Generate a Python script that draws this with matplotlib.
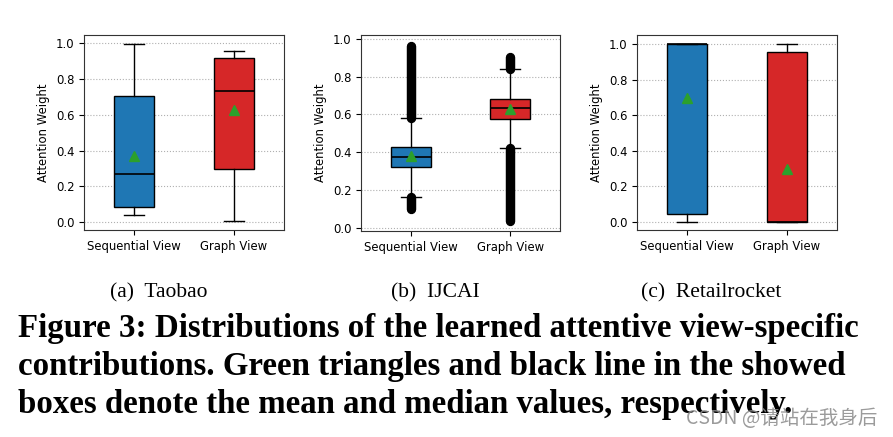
import matplotlib
matplotlib.use("Agg")
import matplotlib.pyplot as plt

# box statistics (q1, median, q3, whisker low/high, mean)
views = ["Sequential View", "Graph View"]
colors = ["#1f77b4", "#d62728"]

taobao_q1 = [0.084, 0.296]
taobao_med = [0.270, 0.730]
taobao_q3 = [0.703, 0.914]
taobao_lo = [0.043, 0.006]
taobao_hi = [0.994, 0.955]
taobao_mean = [0.372, 0.628]

ijcai_q1 = [0.322, 0.576]
ijcai_med = [0.373, 0.633]
ijcai_q3 = [0.426, 0.680]
ijcai_lo = [0.164, 0.420]
ijcai_hi = [0.583, 0.839]
ijcai_mean = [0.378, 0.627]
# outliers are so dense that they form solid bands: (low, high) per band
ijcai_fliers = [[(0.10, 0.164), (0.583, 0.965)], [(0.035, 0.420), (0.839, 0.903)]]

retail_q1 = [0.045, 0.0]
retail_med = [1.0, 0.0]
retail_q3 = [1.0, 0.955]
retail_lo = [0.0, 0.0]
retail_hi = [1.0, 1.0]
retail_mean = [0.699, 0.297]

yticks = [0.0, 0.2, 0.4, 0.6, 0.8, 1.0]
subcaptions = ["(a)  Taobao", "(b)  IJCAI", "(c)  Retailrocket"]
caption = ["Figure 3: Distributions of the learned attentive view-specific",
           "contributions. Green triangles and black line in the showed",
           "boxes denote the mean and median values, respectively."]
watermark = "CSDN @请站在我身后"

W, H = 893, 437
fig = plt.figure(figsize=(W / 100, H / 100), dpi=100)


def make_stats(q1, med, q3, lo, hi, mean):
    out = []
    for i in range(len(q1)):
        out.append(dict(q1=q1[i], med=med[i], q3=q3[i], whislo=lo[i],
                        whishi=hi[i], mean=mean[i], fliers=[]))
    return out


panels = [
    make_stats(taobao_q1, taobao_med, taobao_q3, taobao_lo, taobao_hi, taobao_mean),
    make_stats(ijcai_q1, ijcai_med, ijcai_q3, ijcai_lo, ijcai_hi, ijcai_mean),
    make_stats(retail_q1, retail_med, retail_q3, retail_lo, retail_hi, retail_mean),
]
# axes boxes in pixels: left, top, right, bottom
boxes_px = [(84, 35, 284, 230), (361, 35, 560, 231), (637, 35, 837, 230)]
ylims = [(-0.043, 1.045), (-0.018, 1.021), (-0.047, 1.052)]
sub_x = [159, 435, 711]

for k, stats in enumerate(panels):
    l, t, r, b = boxes_px[k]
    ax = fig.add_axes([l / W, 1 - b / H, (r - l) / W, (b - t) / H])
    ax.set_axisbelow(True)
    ax.grid(axis="y", linestyle=":", color="#b0b0b0", linewidth=0.8)
    if k == 1:
        for i, bands in enumerate(ijcai_fliers):
            for lo, hi in bands:
                ax.vlines(i + 1, lo, hi, color="black", linewidth=6.8,
                          capstyle="round", zorder=1.5)
    bp = ax.bxp(stats, positions=[1, 2], widths=0.4, patch_artist=True,
                showmeans=True, showfliers=False,
                medianprops=dict(color="black", linewidth=1.2),
                meanprops=dict(marker="^", markerfacecolor="#2ca02c",
                               markeredgecolor="#2ca02c", markersize=7),
                whiskerprops=dict(color="black", linewidth=1),
                capprops=dict(color="black", linewidth=1),
                boxprops=dict(edgecolor="black", linewidth=1))
    for patch, c in zip(bp["boxes"], colors):
        patch.set_facecolor(c)
    ax.set_xlim(0.5, 2.5)
    ax.set_ylim(*ylims[k])
    ax.set_yticks(yticks)
    ax.set_xticks([1, 2])
    ax.set_xticklabels(views)
    ax.tick_params(labelsize=8.4)
    ax.set_ylabel("Attention Weight", fontsize=8.4)
    for s in ax.spines.values():
        s.set_color("#333333")
    fig.text(sub_x[k] / W, 1 - 297 / H, subcaptions[k],
             family="Liberation Serif", fontsize=15.5, ha="center", va="baseline")

# caption: size chosen so the first line spans the same width as the reference
renderer = fig.canvas.get_renderer()
probe = fig.text(0, 0, caption[0], family="Liberation Serif", fontweight="bold",
                 fontsize=20)
w20 = probe.get_window_extent(renderer).width
probe.remove()
cap_size = 20 * 842 / w20

for i, line in enumerate(caption):
    fig.text(18 / W, 1 - (337 + 38 * i) / H, line, family="Liberation Serif",
             fontweight="bold", fontsize=cap_size, ha="left", va="baseline")

fig.text(877 / W, 1 - 418 / H, watermark, family=["Noto Sans CJK SC", "DejaVu Sans"],
         fontsize=14, color="#8a8a8a", alpha=0.85, ha="right", va="center")

fig.savefig("out.png", dpi=100)
